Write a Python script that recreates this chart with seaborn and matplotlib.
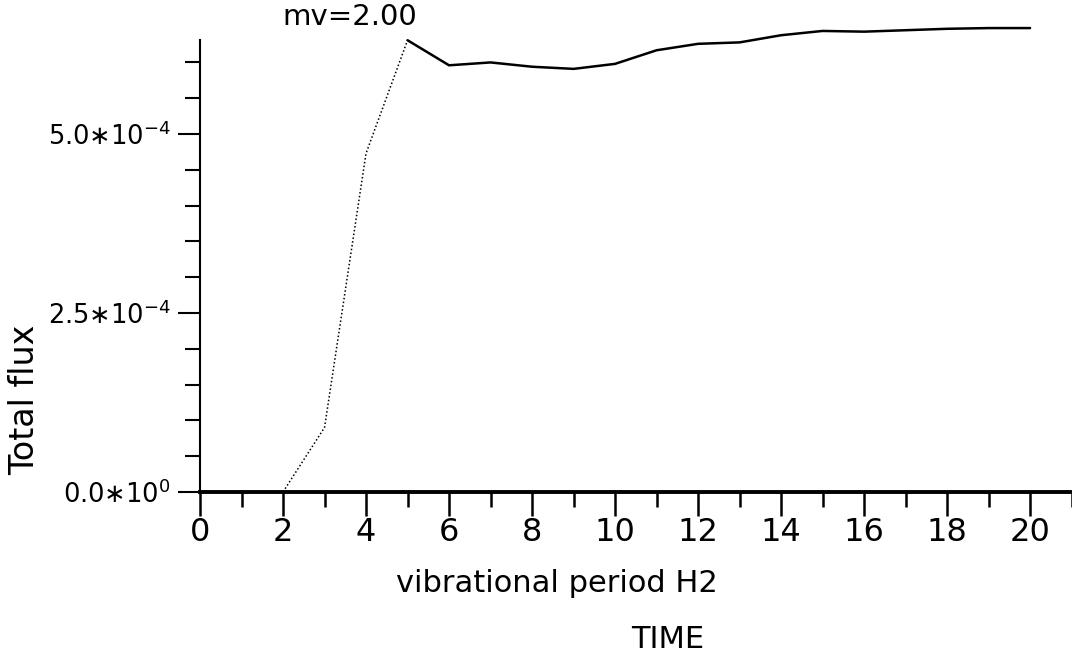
import numpy as np
import pandas as pd
import seaborn as sns
import matplotlib.pyplot as plt
from matplotlib.ticker import MultipleLocator, FixedLocator

# values
time = [2, 3, 4, 5, 6, 7, 8, 9, 10, 11, 12, 13, 14, 15, 16, 17, 18, 19, 20]
flux = [0.0, 0.90e-4, 4.73e-4, 6.31e-4, 5.96e-4, 6.00e-4, 5.94e-4, 5.91e-4,
        5.98e-4, 6.17e-4, 6.26e-4, 6.28e-4, 6.38e-4, 6.44e-4, 6.43e-4,
        6.45e-4, 6.47e-4, 6.48e-4, 6.48e-4]
rise_end = 5  # dotted part up to here, solid afterwards

y_ticks = [0.0, 2.5e-4, 5.0e-4]
y_minor = [0.5e-4, 1.0e-4, 1.5e-4, 2.0e-4, 3.0e-4, 3.5e-4, 4.0e-4, 4.5e-4,
           5.5e-4, 6.0e-4]
y_ticklabels = [r'0.0∗10$^{0}$', r'2.5∗10$^{-4}$', r'5.0∗10$^{-4}$']
x_ticks = list(range(0, 21, 2))

df = pd.DataFrame({'time': time, 'flux': flux})
rise = df[df['time'] <= rise_end]
plateau = df[df['time'] >= rise_end]

sns.set_style('ticks')
plt.rcParams['font.family'] = ['DejaVu Sans']
plt.rcParams['text.color'] = 'black'
plt.rcParams['axes.labelcolor'] = 'black'

fig = plt.figure(figsize=(10.72, 6.72), dpi=100)
ax = fig.add_axes([0.1866, 0.268, 0.813, 0.703])

sns.lineplot(data=rise, x='time', y='flux', ax=ax, color='black',
             linestyle=(0, (1, 1.5)), linewidth=1.1)
sns.lineplot(data=plateau, x='time', y='flux', ax=ax, color='black',
             linewidth=1.8)
for line in ax.lines:
    line.set_clip_on(False)

ax.set_xlim(0, 21)
ax.set_ylim(0, 6.6e-4)
sns.despine(ax=ax)
ax.spines['left'].set_bounds(0, 6.31e-4)
ax.spines['left'].set_linewidth(1.5)
ax.spines['left'].set_color('black')
ax.spines['bottom'].set_linewidth(2.8)
ax.spines['bottom'].set_color('black')

ax.xaxis.set_major_locator(FixedLocator(x_ticks))
ax.set_xticklabels([str(t) for t in x_ticks])
ax.xaxis.set_minor_locator(MultipleLocator(1))
ax.yaxis.set_major_locator(FixedLocator(y_ticks))
ax.set_yticklabels(y_ticklabels)
ax.yaxis.set_minor_locator(FixedLocator(y_minor))

ax.tick_params(axis='x', which='major', length=17, width=1.8, pad=1,
               labelsize=23, color='black', labelcolor='black')
ax.tick_params(axis='x', which='minor', length=11, width=1.8, color='black')
ax.tick_params(axis='y', which='major', length=16, width=1.5, pad=5,
               labelsize=18.5, color='black', labelcolor='black')
ax.tick_params(axis='y', which='minor', length=11, width=1.5, color='black')

ax.set_xlabel('vibrational period H2', fontsize=22, va='center')
ax.xaxis.set_label_coords(557 / 1072, 1 - 583 / 672, transform=fig.transFigure)
ax.set_ylabel('Total flux', fontsize=24, va='center')
ax.yaxis.set_label_coords(25 / 1072, 1 - 400 / 672, transform=fig.transFigure)

fig.text(668 / 1072, 1 - 640 / 672, 'TIME', fontsize=22, ha='center', va='center')
ax.text(3.6, 6.63e-4, 'mv=2.00', fontsize=21, ha='center', va='center')

fig.savefig('out.png', dpi=100, facecolor='white')
